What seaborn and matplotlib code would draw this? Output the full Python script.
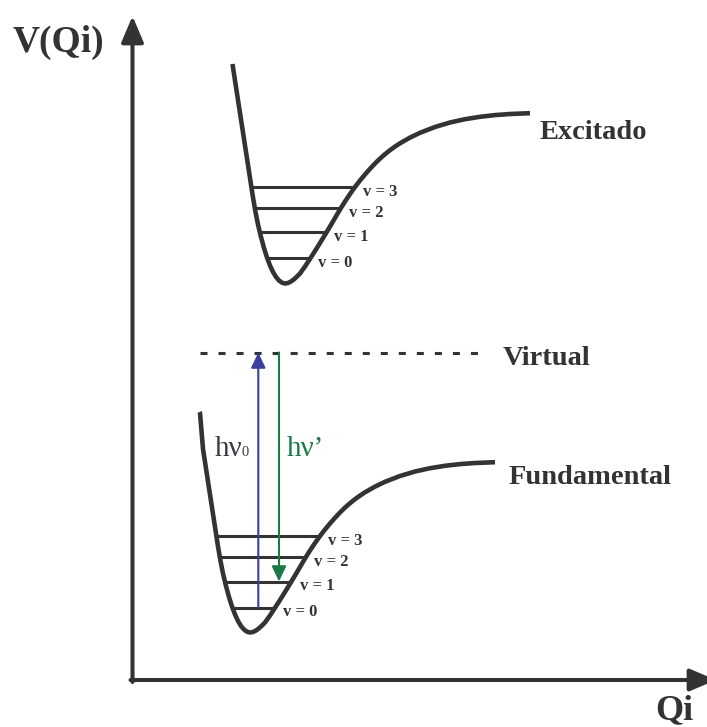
import numpy as np
import pandas as pd
import matplotlib
matplotlib.use("Agg")
import matplotlib.pyplot as plt
import seaborn as sns

# ---------------- data (pixel coordinates) ----------------
excited_x = [232.5, 235, 238, 241, 244, 247, 250, 253, 255.5, 258, 261, 264, 267, 270, 273,
             276, 279, 282, 285, 288, 291, 294, 297, 300, 305, 310, 315, 320, 325, 330,
             335, 340, 345, 350, 355, 360, 365, 370, 375, 380, 385, 390, 395, 400, 410,
             420, 435, 450, 465, 480, 495, 510, 530]
excited_y = [64, 80.5, 100, 119.5, 139, 158.5, 178, 197.5, 212, 224.5, 237, 248, 257.5, 265.5, 272,
             277, 280.5, 282.7, 283.5, 283, 281.5, 279.3, 276.5, 273.5, 266.5, 258.8, 251, 243, 234.8, 226.5,
             218, 209.5, 201.5, 194, 187, 180.5, 174.5, 168.8, 163.5, 158.6, 154.2, 150.2, 146.6, 143.3, 137.6,
             132.8, 127, 122.5, 119.2, 116.8, 115.1, 114, 113.2]

ground_x = [199.5, 200, 203, 206, 209, 212, 215, 218, 220.5, 223, 226, 229, 232, 235, 238,
            241, 244, 247, 250, 253, 256, 259, 262, 265, 270, 275, 280, 285, 290, 295,
            300, 305, 310, 315, 320, 325, 330, 335, 340, 345, 350, 355, 360, 365, 375,
            385, 400, 415, 430, 445, 460, 475, 495]
ground_y = [412, 413, 449, 468.5, 488, 507.5, 527, 546.5, 561, 573.5, 586, 597, 606.5, 614.5, 621,
            626, 629.5, 631.7, 632.5, 632, 630.5, 628.3, 625.5, 622.5, 615.5, 607.8, 600, 592, 583.8, 575.5,
            567, 558.5, 550.5, 543, 536, 529.5, 523.5, 517.8, 512.5, 507.6, 503.2, 499.2, 495.6, 492.3, 486.6,
            481.8, 476, 471.5, 468.2, 465.8, 464.1, 463, 462.2]

level_labels = ["v = 0", "v = 1", "v = 2", "v = 3"]
excited_level_y = [258.3, 232.3, 208.3, 186.7]
excited_level_x0 = [267.3, 260.3, 254.9, 251.3]
excited_level_x1 = [310.3, 326.5, 340.8, 355.2]
ground_level_y = [607.5, 581.5, 557.3, 535.7]
ground_level_x0 = [232.3, 225.3, 219.9, 216.3]
ground_level_x1 = [275.3, 291.5, 305.8, 320.2]

virtual_y = 352.5
virtual_x = [200, 487]
hv0_x, hv0_from = 258.3, 607.5
hvp_x, hvp_to = 279, 581.5

state_names = ["Excitado", "Virtual", "Fundamental"]
axis_labels = ["V(Qi)", "Qi"]

# ---------------- figure ----------------
sns.set_theme(style="white")
plt.rcParams["font.family"] = ["Liberation Serif", "DejaVu Serif"]

W, H = 707, 727
fig = plt.figure(figsize=(W / 100, H / 100), dpi=100)
ax = fig.add_axes([0, 0, 1, 1])
ax.set_xlim(0, W)
ax.set_ylim(H, 0)
ax.axis("off")

dark = "#333333"
blue = "#3c3d9c"
green = "#1b7a46"

# axes arrows
ax.annotate("", xy=(132.5, 16), xytext=(132.5, 682),
            arrowprops=dict(arrowstyle="-|>,head_length=0.4,head_width=0.17", mutation_scale=40,
                            lw=2.9, color=dark, shrinkA=0, shrinkB=0), annotation_clip=False)
ax.annotate("", xy=(716, 680), xytext=(130.5, 680),
            arrowprops=dict(arrowstyle="-|>,head_length=0.4,head_width=0.17", mutation_scale=40,
                            lw=2.9, color=dark, shrinkA=0, shrinkB=0), annotation_clip=False)

# potential curves
curves = pd.DataFrame({"x": excited_x + ground_x,
                       "y": excited_y + ground_y,
                       "state": ["Excitado"] * len(excited_x) + ["Fundamental"] * len(ground_x)})
for st, sub in curves.groupby("state"):
    sns.lineplot(data=sub, x="x", y="y", sort=False, color=dark, linewidth=3.3,
                 ax=ax, legend=False, solid_joinstyle="round", solid_capstyle="butt")

# vibrational levels
ax.hlines(excited_level_y, excited_level_x0, excited_level_x1, color=dark, lw=2.2)
ax.hlines(ground_level_y, ground_level_x0, ground_level_x1, color=dark, lw=2.2)
for lab, y, x1 in zip(level_labels, excited_level_y, excited_level_x1):
    ax.text(x1 + 8, y + 9, lab, fontsize=12, fontweight="bold", color=dark,
            ha="left", va="baseline")
for lab, y, x1 in zip(level_labels, ground_level_y, ground_level_x1):
    ax.text(x1 + 8, y + 9, lab, fontsize=12, fontweight="bold", color=dark,
            ha="left", va="baseline")

# virtual level
ax.hlines(virtual_y, virtual_x[0], virtual_x[1], color=dark, lw=2.2,
          linestyles=[(0, (2.3, 3.6))])

# photon arrows
ax.annotate("", xy=(hv0_x, virtual_y), xytext=(hv0_x, hv0_from),
            arrowprops=dict(arrowstyle="-|>,head_length=0.42,head_width=0.2", mutation_scale=22,
                            lw=1.5, color=blue, shrinkA=0, shrinkB=0))
ax.annotate("", xy=(hvp_x, hvp_to), xytext=(hvp_x, virtual_y),
            arrowprops=dict(arrowstyle="-|>,head_length=0.42,head_width=0.2", mutation_scale=22,
                            lw=1.5, color=green, shrinkA=0, shrinkB=0))

ax.text(215, 456, "hν", fontsize=21, color="#3a3a45", ha="left", va="baseline")
ax.text(242, 456, "0", fontsize=10.5, color="#3a3a45", ha="left", va="baseline")
ax.text(287, 456, "hν’", fontsize=21, color=green, ha="left", va="baseline")

# state names
ax.text(540, 139, state_names[0], fontsize=20.5, fontweight="bold", color=dark,
        ha="left", va="baseline")
ax.text(503, 365, state_names[1], fontsize=20.5, fontweight="bold", color=dark,
        ha="left", va="baseline")
ax.text(509, 484, state_names[2], fontsize=20.5, fontweight="bold", color=dark,
        ha="left", va="baseline")

# axis labels
ax.text(12.5, 52, axis_labels[0], fontsize=27, fontweight="bold", color=dark,
        ha="left", va="baseline")
ax.text(655, 719, axis_labels[1], fontsize=26, fontweight="bold", color=dark,
        ha="left", va="baseline")

fig.savefig("out.png", dpi=100, facecolor="white")
